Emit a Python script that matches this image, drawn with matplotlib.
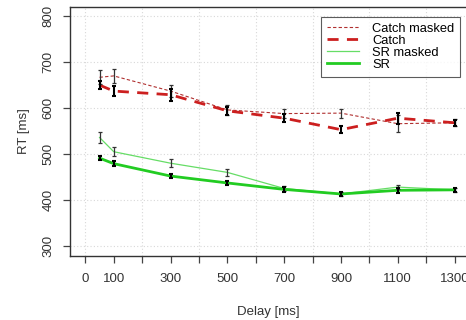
import matplotlib
matplotlib.use("Agg")
import matplotlib.pyplot as plt

plt.rcParams['font.family'] = ['Liberation Sans', 'DejaVu Sans']

delay = [50, 100, 300, 500, 700, 900, 1100, 1300]

catch_masked = [667, 670, 637, 596, 588, 589, 566, 568]
catch_masked_err = [15, 15, 13, 10, 9, 10, 18, 8]
catch = [650, 637, 629, 594, 578, 553, 578, 568]
catch_err = [9, 10, 13, 8, 9, 7, 12, 7]

sr_masked = [536, 505, 480, 460, 425, 413, 428, 422]
sr_masked_err = [11, 10, 9, 8, 5, 5, 5, 5]
sr = [491, 479, 452, 437, 423, 413, 421, 422]
sr_err = [5, 6, 5, 5, 5, 5, 5, 5]

xtick_pos = [0, 100, 200, 300, 400, 500, 600, 700, 800, 900, 1000, 1100, 1200, 1300]
xtick_lab = ['0', '100', '', '300', '', '500', '', '700', '', '900', '', '1100', '', '1300']
ytick_pos = [300, 400, 500, 600, 700, 800]

fig = plt.figure(figsize=(4.66, 3.2), dpi=100)
ax = fig.add_axes([70 / 466, 64 / 320, 396 / 466, 249 / 320])

# grid
for gx in range(0, 1401, 200):
    ax.axvline(gx, color='#d8d8d8', lw=0.8, ls=(0, (1, 2)), zorder=0)
for gy in ytick_pos:
    ax.axhline(gy, color='#d8d8d8', lw=0.8, ls=(0, (1, 2)), zorder=0)

ax.plot(delay, catch_masked, color='#b03030', lw=0.8, ls=(0, (3, 2)), label='Catch masked')
ax.plot(delay, catch, color='#cc1f1f', lw=2.0, ls=(0, (4, 3)), label='Catch')
ax.plot(delay, sr_masked, color='#66dd66', lw=0.9, label='SR masked')
ax.plot(delay, sr, color='#22cc22', lw=2.0, label='SR')

ax.errorbar(delay, catch_masked, yerr=catch_masked_err, fmt='none', ecolor='#333333',
            elinewidth=0.9, capsize=1.5, capthick=0.9)
ax.errorbar(delay, catch, yerr=catch_err, fmt='none', ecolor='black',
            elinewidth=1.5, capsize=1.5, capthick=1.5)
ax.errorbar(delay, sr_masked, yerr=sr_masked_err, fmt='none', ecolor='#333333',
            elinewidth=0.9, capsize=1.5, capthick=0.9)
ax.errorbar(delay, sr, yerr=sr_err, fmt='none', ecolor='black',
            elinewidth=1.5, capsize=1.5, capthick=1.5)

ax.set_xlim(-54, 1340)
ax.set_ylim(278, 820)

ax.set_xticks(xtick_pos)
ax.set_xticklabels(xtick_lab)
ax.set_yticks(ytick_pos)
ax.set_yticklabels([str(v) for v in ytick_pos], rotation=90, va='center')

ax.tick_params(axis='both', direction='out', length=5, width=0.9, color='#444444',
               labelsize=9.5, labelcolor='#333333')
ax.tick_params(axis='x', pad=7)
ax.tick_params(axis='y', pad=6)

for s in ['left', 'bottom', 'top']:
    ax.spines[s].set_color('#333333')
    ax.spines[s].set_linewidth(1.0)
ax.spines['right'].set_visible(False)

ax.set_xlabel('Delay [ms]', fontsize=9.5, color='#333333', labelpad=15)
ax.set_ylabel('RT [ms]', fontsize=9.5, color='#333333', labelpad=9)

leg = ax.legend(loc='upper right', bbox_to_anchor=(0.985, 0.96), fontsize=9.3,
                frameon=True, fancybox=False, handlelength=2.5, labelspacing=0.0,
                borderpad=0.45, handletextpad=1.0, borderaxespad=0)
leg.get_frame().set_edgecolor('#333333')
leg.get_frame().set_linewidth(0.8)

fig.savefig('out.png', dpi=100)
